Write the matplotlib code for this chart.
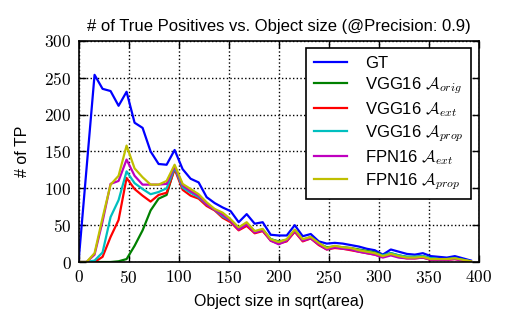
import matplotlib
matplotlib.use("Agg")
import matplotlib.pyplot as plt
from matplotlib.ticker import FuncFormatter, MultipleLocator

plt.rcParams["font.family"] = ["Liberation Sans", "DejaVu Sans"]
plt.rcParams["mathtext.fontset"] = "cm"

# object size bins (sqrt(area)), step of 8
sizes = list(range(0, 400, 8))

gt = [0, 127, 254, 235, 232, 212, 231, 189, 182, 150, 133, 132, 152, 126, 113, 108, 88, 80, 74, 69,
      54, 65, 52, 54, 37, 36, 36, 50, 35, 38, 28, 25, 26, 25, 23, 21, 18, 16, 10, 17,
      14, 11, 10, 12, 8, 7, 6, 8, 5, 2]
vgg_orig = [0, 0, 0, 0, 0, 1, 4, 22, 43, 70, 86, 91, 128, 102, 95, 88, 78, 71, 64, 56,
            45, 52, 41, 43, 31, 28, 30, 43, 30, 34, 25, 20, 21, 20, 19, 17, 15, 13, 9, 12,
            9, 7, 7, 8, 5, 4, 4, 5, 3, 1]
vgg_ext = [0, 0, 0, 7, 34, 57, 114, 99, 90, 82, 91, 94, 126, 98, 90, 86, 76, 70, 60, 54,
           43, 49, 39, 42, 29, 25, 28, 41, 28, 32, 23, 17, 19, 18, 16, 14, 12, 10, 7, 10,
           7, 5, 5, 6, 3, 3, 3, 4, 2, 1]
vgg_prop = [0, 0, 2, 13, 61, 84, 123, 107, 99, 92, 95, 100, 128, 101, 94, 88, 78, 71, 62, 56,
            45, 52, 41, 44, 31, 27, 30, 43, 30, 33, 25, 19, 21, 20, 18, 16, 14, 12, 9, 12,
            9, 7, 7, 8, 5, 4, 4, 5, 3, 1]
fpn_ext = [0, 0, 10, 55, 106, 110, 139, 117, 105, 105, 105, 106, 130, 104, 96, 90, 78, 71, 64, 56,
           44, 51, 40, 43, 29, 24, 29, 42, 29, 32, 24, 17, 20, 18, 17, 14, 12, 10, 6, 9,
           6, 5, 5, 6, 3, 3, 3, 4, 2, 1]
fpn_prop = [0, 0, 12, 60, 105, 117, 158, 127, 115, 105, 105, 110, 132, 106, 99, 92, 81, 72, 67, 58,
            47, 54, 42, 45, 31, 27, 31, 44, 31, 34, 26, 19, 22, 20, 19, 16, 14, 12, 8, 11,
            8, 6, 6, 7, 4, 4, 4, 5, 3, 1]

series = [
    ("GT", gt, "b"),
    (r"VGG16 $\mathcal{A}_{orig}$", vgg_orig, "g"),
    (r"VGG16 $\mathcal{A}_{ext}$", vgg_ext, "r"),
    (r"VGG16 $\mathcal{A}_{prop}$", vgg_prop, "c"),
    (r"FPN16 $\mathcal{A}_{ext}$", fpn_ext, "m"),
    (r"FPN16 $\mathcal{A}_{prop}$", fpn_prop, "y"),
]

fig = plt.figure(figsize=(5.1, 3.3), dpi=100)
ax = fig.add_axes([0.154, 0.206, 0.785, 0.670])

for label, values, color in series:
    ax.plot(sizes, values, color=color, lw=1.6, label=label)

ax.set_xlim(0, 400)
ax.set_ylim(0, 300)
ax.xaxis.set_major_locator(MultipleLocator(50))
ax.yaxis.set_major_locator(MultipleLocator(50))
cm_fmt = FuncFormatter(lambda v, _: r"$%d$" % v)
ax.xaxis.set_major_formatter(cm_fmt)
ax.yaxis.set_major_formatter(cm_fmt)
ax.tick_params(direction="in", length=5, width=1, top=True, right=True, labelsize=12.5, pad=5)
for sp in ax.spines.values():
    sp.set_linewidth(1.2)
ax.grid(True, color="black", linestyle=":", linewidth=1)

ax.set_title("# of True Positives vs. Object size (@Precision: 0.9)", fontsize=12, pad=7)
ax.set_xlabel("Object size in sqrt(area)", fontsize=11.5, labelpad=6)
ax.set_ylabel("# of TP", fontsize=11.5, labelpad=10)

leg = ax.legend(loc="upper right", fontsize=12, fancybox=False, framealpha=1,
                edgecolor="black", borderaxespad=0.45, borderpad=0.45, labelspacing=0.25,
                handlelength=2.0, handletextpad=1.1)
leg.get_frame().set_linewidth(1.2)

fig.savefig("out.png", dpi=100)
